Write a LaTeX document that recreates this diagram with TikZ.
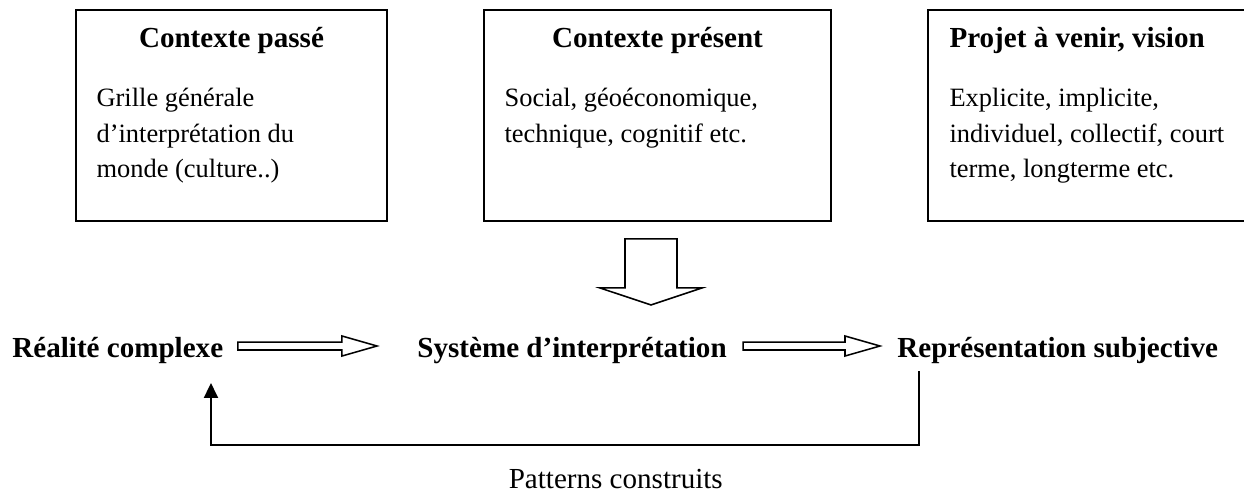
\documentclass[tikz,border=0pt]{standalone}
\usepackage{fontspec}
\setmainfont{Liberation Serif}
\usetikzlibrary{arrows.meta,positioning,calc}

\begin{document}
\begin{tikzpicture}[
  ctxbox/.style={draw, line width=0.8pt, minimum height=3.392cm, inner sep=0pt},
  titre/.style={font=\fontsize{13.3}{16}\selectfont\bfseries, inner sep=0pt},
  corps/.style={font=\fontsize{12.1}{16.2}\selectfont, align=left, inner sep=0pt, anchor=north west},
  etape/.style={font=\fontsize{13.3}{16}\selectfont\bfseries, inner sep=0pt, anchor=base west},
  creux/.style={draw, line width=0.7pt, fill=white},
  retour/.style={line width=0.9pt, -{Triangle[length=0.24cm, width=0.225cm]}}
]
\useasboundingbox (0,0) rectangle (20,7.926);
% les trois contextes
\node[ctxbox, minimum width=5cm] (passe) at (3.722,6.069) {};
\node[ctxbox, minimum width=5.579cm] (present) at (10.571,6.069) {};
\node[ctxbox, minimum width=5.4cm] (projet) at (17.62,6.069) {};
\node[titre, anchor=base] (tpasse) at ($(passe.north)+(0,-0.611)$) {Contexte passé};
\node[titre, anchor=base] (tpresent) at ($(present.north)+(0,-0.611)$) {Contexte présent};
\node[titre, anchor=base west] (tprojet) at ($(projet.north west)+(0.353,-0.611)$) {Projet à venir, vision};
\node[corps] (cpasse) at ($(passe.north west)+(0.337,-1.269)$) {Grille générale\\d’interprétation du\\monde (culture..)};
\node[corps] (cpresent) at ($(present.north west)+(0.338,-1.269)$) {Social, géoéconomique,\\technique, cognitif etc.};
\node[corps] (cprojet) at ($(projet.north west)+(0.353,-1.269)$) {Explicite, implicite,\\individuel, collectif, court\\terme, longterme etc.};
% grosse fleche vers le systeme
\coordinate (pointe) at (10.466,3.023);
\draw[creux] (pointe) -- ++(0.82,0.273) -- ++(-0.402,0) -- ++(0,0.788) -- ++(-0.836,0)
  -- ++(0,-0.788) -- ++(-0.402,0) -- cycle;
% la chaine principale
\node[etape] (real) at (0.193,2.186) {Réalité complexe};
\node[etape] (syst) at (6.704,2.186) {Système d’interprétation};
\node[etape] (repr) at (14.421,2.186) {Représentation subjective};
\coordinate (a1) at ($(real.base east)+(0.23,0.177)$);
\coordinate (b1) at ($(syst.base west)+(-0.643,0.177)$);
\coordinate (a2) at ($(syst.base east)+(0.257,0.177)$);
\coordinate (b2) at ($(repr.base west)+(-0.273,0.177)$);
\foreach \a/\b in {a1/b1, a2/b2}
  \draw[creux] ($(\a)+(0,0.064)$) -- ($(\b)+(-0.563,0.064)$) -- ($(\b)+(-0.563,0.161)$) -- (\b)
    -- ($(\b)+(-0.563,-0.161)$) -- ($(\b)+(-0.563,-0.064)$) -- ($(\a)+(0,-0.064)$) -- cycle;
% boucle de retour
\coordinate (fbout) at ($(repr.base west)+(0.354,-0.225)$);
\coordinate (fbin) at ($(real.base west)+(3.199,-0.418)$);
\draw[retour] (fbout) -- ++(0,-1.189) -| (fbin);
\node[font=\fontsize{13.3}{16}\selectfont, inner sep=0pt, anchor=base] (patterns) at (9.9,0.08) {Patterns construits};
\end{tikzpicture}
\end{document}
